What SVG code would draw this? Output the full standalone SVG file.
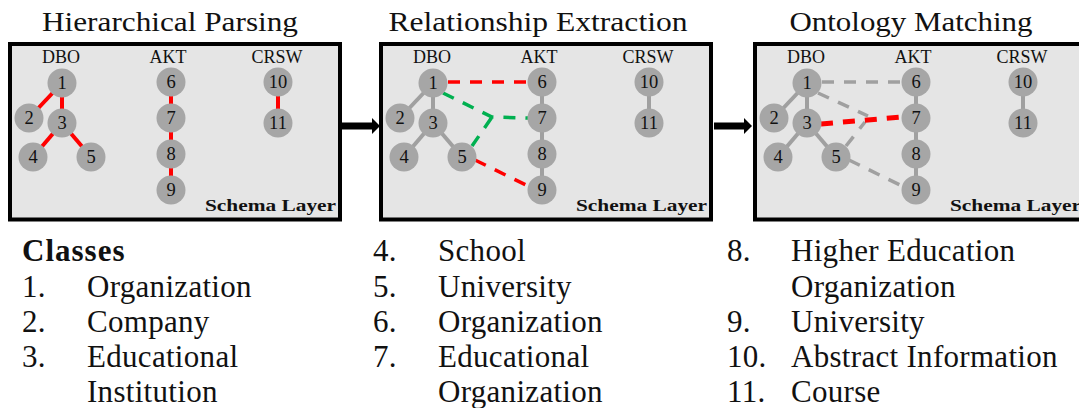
<svg xmlns="http://www.w3.org/2000/svg" width="1079" height="408" viewBox="0 0 1079 408" font-family="'Liberation Serif', 'DejaVu Serif', 'Times New Roman', serif">
  <style>
    text { fill: #111; }
    .title { font-size: 28px; text-anchor: middle; }
    .frame { fill: #e5e5e5; stroke: #000; stroke-width: 4; }
    .onto { font-size: 18px; text-anchor: middle; }
    .layer { font-size: 16px; font-weight: bold; text-anchor: end; }
    .node circle { fill: #a6a6a6; }
    .node text { font-size: 18.5px; text-anchor: middle; }
    .tree { stroke-width: 4; stroke-linecap: butt; fill: none; }
    .red { stroke: #ff0000; }
    .grey { stroke: #a0a0a0; }
    .dash { stroke-width: 3.5; stroke-dasharray: 12 10; fill: none; }
    .green { stroke: #00b050; }
    .match { stroke: #ff0000; stroke-width: 5; stroke-dasharray: 12 10; fill: none; }
    .list { font-size: 31px; letter-spacing: 0.3px; }
    .head { font-size: 31px; font-weight: bold; letter-spacing: 1px; }
  </style>

  <!-- Panel titles -->
  <text class="title" x="170" y="31" textLength="256" lengthAdjust="spacingAndGlyphs">Hierarchical Parsing</text>
  <text class="title" x="538" y="31" textLength="299" lengthAdjust="spacingAndGlyphs">Relationship Extraction</text>
  <text class="title" x="911" y="31" textLength="243" lengthAdjust="spacingAndGlyphs">Ontology Matching</text>

  <!-- Panel frames -->
  <rect class="frame" x="10" y="44" width="330" height="175.5"/>
  <rect class="frame" x="381" y="44" width="330" height="175.5"/>
  <rect class="frame" x="755" y="44" width="330" height="175.5"/>

  <!-- Ontology headings and layer captions -->
  <g id="labels">
    <g>
      <text class="onto" x="61" y="63">DBO</text>
      <text class="onto" x="168" y="63">AKT</text>
      <text class="onto" x="277" y="63">CRSW</text>
      <text class="layer" x="336" y="211" textLength="131" lengthAdjust="spacingAndGlyphs">Schema Layer</text>
    </g>
    <g transform="translate(371,0)">
      <text class="onto" x="61" y="63">DBO</text>
      <text class="onto" x="168" y="63">AKT</text>
      <text class="onto" x="277" y="63">CRSW</text>
      <text class="layer" x="336" y="211" textLength="131" lengthAdjust="spacingAndGlyphs">Schema Layer</text>
    </g>
    <g transform="translate(745,0)">
      <text class="onto" x="61" y="63">DBO</text>
      <text class="onto" x="168" y="63">AKT</text>
      <text class="onto" x="277" y="63">CRSW</text>
      <text class="layer" x="336" y="211" textLength="131" lengthAdjust="spacingAndGlyphs">Schema Layer</text>
    </g>
  </g>

  <!-- Connectors -->
  <g id="connectors">
    <!-- hierarchy edges, stage 1 (highlighted) -->
    <g class="tree red">
      <line x1="62" y1="83" x2="29" y2="118"/>
      <line x1="62" y1="83" x2="62" y2="123"/>
      <line x1="62" y1="123" x2="33" y2="157"/>
      <line x1="62" y1="123" x2="91" y2="157"/>
      <line x1="171" y1="82" x2="171" y2="190"/>
      <line x1="278" y1="82" x2="278" y2="123"/>
    </g>
    <!-- hierarchy edges, stages 2 and 3 -->
    <g class="tree grey" transform="translate(371,0)">
      <line x1="62" y1="83" x2="29" y2="118"/>
      <line x1="62" y1="83" x2="62" y2="123"/>
      <line x1="62" y1="123" x2="33" y2="157"/>
      <line x1="62" y1="123" x2="91" y2="157"/>
      <line x1="171" y1="82" x2="171" y2="190"/>
      <line x1="278" y1="82" x2="278" y2="123"/>
    </g>
    <g class="tree grey" transform="translate(745,0)">
      <line x1="62" y1="83" x2="29" y2="118"/>
      <line x1="62" y1="83" x2="62" y2="123"/>
      <line x1="62" y1="123" x2="33" y2="157"/>
      <line x1="62" y1="123" x2="91" y2="157"/>
      <line x1="171" y1="82" x2="171" y2="190"/>
      <line x1="278" y1="82" x2="278" y2="123"/>
    </g>

    <!-- extracted relationships -->
    <g transform="translate(371,0)">
      <line class="dash red" x1="77" y1="82" x2="157" y2="82"/>
      <path class="dash green" d="M72,93 L121,117 L157,118 M101,146 L121,117"/>
      <line class="dash red" x1="104" y1="160" x2="157" y2="186"/>
    </g>

    <!-- matched relationships -->
    <g transform="translate(745,0)">
      <line class="dash grey" x1="77" y1="82" x2="157" y2="82"/>
      <path class="dash grey" d="M73,93 L123,116 M101,146 L120,122"/>
      <line class="dash grey" x1="104" y1="160" x2="157" y2="186"/>
      <line class="match" x1="76" y1="124" x2="157" y2="117"/>
    </g>

    <!-- stage arrows -->
    <polygon points="342,122.5 372,122.5 372,118 380,126 372,134 372,129.5 342,129.5" fill="#000"/>
    <polygon points="714,122.5 744,122.5 744,118 752,126 744,134 744,129.5 714,129.5" fill="#000"/>
  </g>

  <!-- Nodes: stage 1 -->
  <g id="s1-n1" class="node"><circle cx="62" cy="83" r="14.5"/><text x="62" y="89">1</text></g>
  <g id="s1-n2" class="node"><circle cx="29" cy="118" r="14.5"/><text x="29" y="124">2</text></g>
  <g id="s1-n3" class="node"><circle cx="62" cy="123" r="14.5"/><text x="62" y="129">3</text></g>
  <g id="s1-n4" class="node"><circle cx="33" cy="157" r="14.5"/><text x="33" y="163">4</text></g>
  <g id="s1-n5" class="node"><circle cx="91" cy="157" r="14.5"/><text x="91" y="163">5</text></g>
  <g id="s1-n6" class="node"><circle cx="171" cy="82" r="14.5"/><text x="171" y="88">6</text></g>
  <g id="s1-n7" class="node"><circle cx="171" cy="118" r="14.5"/><text x="171" y="124">7</text></g>
  <g id="s1-n8" class="node"><circle cx="171" cy="154" r="14.5"/><text x="171" y="160">8</text></g>
  <g id="s1-n9" class="node"><circle cx="171" cy="190" r="14.5"/><text x="171" y="196">9</text></g>
  <g id="s1-n10" class="node"><circle cx="278" cy="82" r="14.5"/><text x="278" y="88">10</text></g>
  <g id="s1-n11" class="node"><circle cx="278" cy="123" r="14.5"/><text x="278" y="129">11</text></g>

  <!-- Nodes: stage 2 -->
  <g transform="translate(371,0)">
    <g id="s2-n1" class="node"><circle cx="62" cy="83" r="14.5"/><text x="62" y="89">1</text></g>
    <g id="s2-n2" class="node"><circle cx="29" cy="118" r="14.5"/><text x="29" y="124">2</text></g>
    <g id="s2-n3" class="node"><circle cx="62" cy="123" r="14.5"/><text x="62" y="129">3</text></g>
    <g id="s2-n4" class="node"><circle cx="33" cy="157" r="14.5"/><text x="33" y="163">4</text></g>
    <g id="s2-n5" class="node"><circle cx="91" cy="157" r="14.5"/><text x="91" y="163">5</text></g>
    <g id="s2-n6" class="node"><circle cx="171" cy="82" r="14.5"/><text x="171" y="88">6</text></g>
    <g id="s2-n7" class="node"><circle cx="171" cy="118" r="14.5"/><text x="171" y="124">7</text></g>
    <g id="s2-n8" class="node"><circle cx="171" cy="154" r="14.5"/><text x="171" y="160">8</text></g>
    <g id="s2-n9" class="node"><circle cx="171" cy="190" r="14.5"/><text x="171" y="196">9</text></g>
    <g id="s2-n10" class="node"><circle cx="278" cy="82" r="14.5"/><text x="278" y="88">10</text></g>
    <g id="s2-n11" class="node"><circle cx="278" cy="123" r="14.5"/><text x="278" y="129">11</text></g>
  </g>

  <!-- Nodes: stage 3 -->
  <g transform="translate(745,0)">
    <g id="s3-n1" class="node"><circle cx="62" cy="83" r="14.5"/><text x="62" y="89">1</text></g>
    <g id="s3-n2" class="node"><circle cx="29" cy="118" r="14.5"/><text x="29" y="124">2</text></g>
    <g id="s3-n3" class="node"><circle cx="62" cy="123" r="14.5"/><text x="62" y="129">3</text></g>
    <g id="s3-n4" class="node"><circle cx="33" cy="157" r="14.5"/><text x="33" y="163">4</text></g>
    <g id="s3-n5" class="node"><circle cx="91" cy="157" r="14.5"/><text x="91" y="163">5</text></g>
    <g id="s3-n6" class="node"><circle cx="171" cy="82" r="14.5"/><text x="171" y="88">6</text></g>
    <g id="s3-n7" class="node"><circle cx="171" cy="118" r="14.5"/><text x="171" y="124">7</text></g>
    <g id="s3-n8" class="node"><circle cx="171" cy="154" r="14.5"/><text x="171" y="160">8</text></g>
    <g id="s3-n9" class="node"><circle cx="171" cy="190" r="14.5"/><text x="171" y="196">9</text></g>
    <g id="s3-n10" class="node"><circle cx="278" cy="82" r="14.5"/><text x="278" y="88">10</text></g>
    <g id="s3-n11" class="node"><circle cx="278" cy="123" r="14.5"/><text x="278" y="129">11</text></g>
  </g>

  <!-- Class legend -->
  <g id="legend">
    <text class="head" x="22" y="261">Classes</text>
    <text class="list" x="22" y="297">1.</text><text class="list" x="87" y="297">Organization</text>
    <text class="list" x="22" y="332">2.</text><text class="list" x="87" y="332">Company</text>
    <text class="list" x="22" y="367">3.</text><text class="list" x="87" y="367">Educational</text>
    <text class="list" x="87" y="402">Institution</text>

    <text class="list" x="373" y="261">4.</text><text class="list" x="438" y="261">School</text>
    <text class="list" x="373" y="297">5.</text><text class="list" x="438" y="297">University</text>
    <text class="list" x="373" y="332">6.</text><text class="list" x="438" y="332">Organization</text>
    <text class="list" x="373" y="367">7.</text><text class="list" x="438" y="367">Educational</text>
    <text class="list" x="438" y="402">Organization</text>

    <text class="list" x="727" y="261">8.</text><text class="list" x="791" y="261">Higher Education</text>
    <text class="list" x="791" y="297">Organization</text>
    <text class="list" x="727" y="332">9.</text><text class="list" x="791" y="332">University</text>
    <text class="list" x="727" y="367">10.</text><text class="list" x="791" y="367">Abstract Information</text>
    <text class="list" x="727" y="402">11.</text><text class="list" x="791" y="402">Course</text>
  </g>
</svg>
